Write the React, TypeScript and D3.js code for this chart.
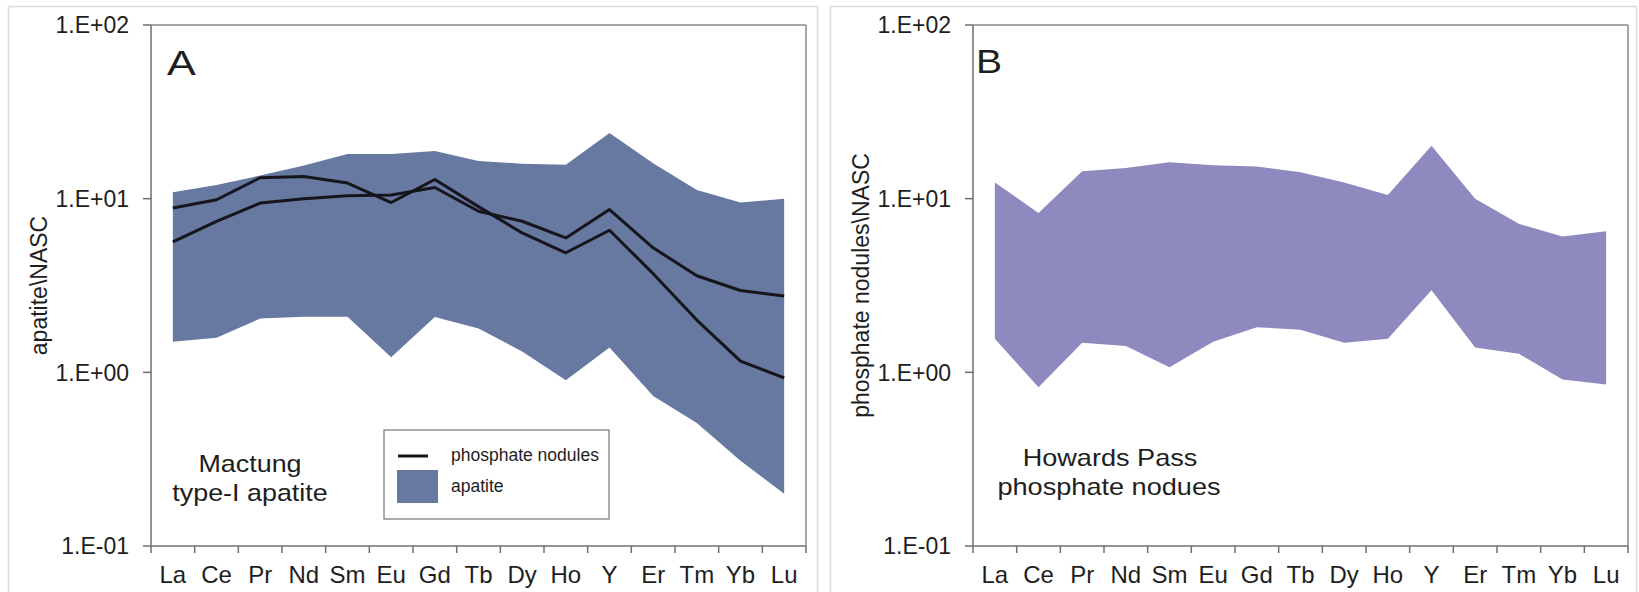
import React from "react";
import * as d3 from "d3";

// REE + Y, normalised to NASC
const elements = ["La", "Ce", "Pr", "Nd", "Sm", "Eu", "Gd", "Tb", "Dy", "Ho", "Y", "Er", "Tm", "Yb", "Lu"];
const yTicks = [0.1, 1, 10, 100];

// Panel A: Mactung type-I apatite envelope
const apatiteMax = [10.9, 12.0, 13.6, 15.5, 18.1, 18.1, 18.8, 16.5, 15.9, 15.7, 23.9, 16.0, 11.2, 9.5, 10.0];
const apatiteMin = [1.5, 1.58, 2.04, 2.09, 2.09, 1.22, 2.08, 1.79, 1.32, 0.9, 1.39, 0.73, 0.51, 0.31, 0.2];
// Panel A: two phosphate nodule profiles
const nodule1 = [8.84, 9.86, 13.2, 13.4, 12.3, 9.5, 12.9, 9.0, 6.35, 4.88, 6.58, 3.7, 2.0, 1.16, 0.93];
const nodule2 = [5.64, 7.41, 9.44, 10.0, 10.4, 10.5, 11.6, 8.46, 7.41, 5.94, 8.65, 5.21, 3.6, 2.96, 2.75];

// Panel B: Howards Pass phosphate nodules envelope
const hpMax = [12.4, 8.28, 14.4, 15.0, 16.2, 15.6, 15.3, 14.2, 12.4, 10.5, 20.2, 10.0, 7.16, 6.06, 6.5];
const hpMin = [1.56, 0.82, 1.48, 1.42, 1.07, 1.5, 1.82, 1.76, 1.48, 1.56, 2.97, 1.39, 1.28, 0.91, 0.85];

const apatiteColor = "#6879a1";
const hpColor = "#8e89bf";
const font = "'Liberation Sans', Arial, sans-serif";

const top = 25;
const bottom = 546;

const fmtTick = (v: number) => {
  const e = Math.round(Math.log10(v));
  return "1.E" + (e < 0 ? "-" : "+") + String(Math.abs(e)).padStart(2, "0");
};

interface PanelProps {
  left: number;
  right: number;
  yTitle: string;
  yTitleX: number;
  bands: { max: number[]; min: number[]; color: string }[];
  lines: number[][];
  children?: React.ReactNode;
}

const Panel: React.FC<PanelProps> = ({ left, right, yTitle, yTitleX, bands, lines, children }) => {
  const x = d3.scaleBand<string>().domain(elements).range([left, right]).padding(0);
  const y = d3.scaleLog().domain([0.1, 100]).range([bottom, top]);
  const cx = (i: number) => (x(elements[i]) as number) + x.bandwidth() / 2;

  const area = d3
    .area<number>()
    .x((_, i) => cx(i));
  const line = d3
    .line<number>()
    .x((_, i) => cx(i))
    .y((d) => y(d));

  const boundaries = elements.map((e) => x(e) as number).concat([right]);

  return (
    <g>
      {/* envelopes */}
      {bands.map((b, k) => {
        const a = area.y0((_, i) => y(b.min[i])).y1((d) => y(d));
        return <path key={k} d={a(b.max) as string} fill={b.color} />;
      })}
      {lines.map((l, k) => (
        <path key={k} d={line(l) as string} fill="none" stroke="#15151c" strokeWidth={3} strokeLinejoin="round" />
      ))}

      {/* frame */}
      <line x1={left} x2={right} y1={top} y2={top} stroke="#8a8a8a" strokeWidth={1.5} />
      <line x1={right} x2={right} y1={top} y2={bottom} stroke="#8a8a8a" strokeWidth={1.5} />
      <line x1={left} x2={left} y1={top} y2={bottom} stroke="#6e6e6e" strokeWidth={1.5} />
      <line x1={left} x2={right} y1={bottom} y2={bottom} stroke="#6e6e6e" strokeWidth={1.5} />

      {/* y axis */}
      {yTicks.map((t) => (
        <g key={t}>
          <line x1={left - 8} x2={left} y1={y(t)} y2={y(t)} stroke="#6e6e6e" strokeWidth={1.5} />
          <text x={left - 22} y={y(t)} dy="0.36em" textAnchor="end" fontSize={23} fill="#1e1e1e" fontFamily={font}>
            {fmtTick(t)}
          </text>
        </g>
      ))}
      <text
        transform={`translate(${yTitleX},${(top + bottom) / 2}) rotate(-90)`}
        textAnchor="middle"
        fontSize={23}
        fill="#1e1e1e"
        fontFamily={font}
      >
        {yTitle}
      </text>

      {/* x axis */}
      {boundaries.map((b, i) => (
        <line key={i} x1={b} x2={b} y1={bottom} y2={bottom + 7} stroke="#6e6e6e" strokeWidth={1.5} />
      ))}
      {elements.map((e, i) => (
        <text key={e} x={cx(i)} y={583} textAnchor="middle" fontSize={24} fill="#1e1e1e" fontFamily={font}>
          {e}
        </text>
      ))}
      {children}
    </g>
  );
};

export default function App() {
  return (
    <svg
      width={1639}
      height={592}
      style={{ position: "absolute", left: 0, top: 0, background: "#ffffff" }}
    >
      <rect x={8.5} y={6.5} width={809} height={600} fill="#fff" stroke="#dcdcdc" strokeWidth={1.5} />
      <rect x={830.5} y={6.5} width={806} height={600} fill="#fff" stroke="#dcdcdc" strokeWidth={1.5} />

      <Panel
        left={151}
        right={806}
        yTitle={"apatite\\NASC"}
        yTitleX={47}
        bands={[{ max: apatiteMax, min: apatiteMin, color: apatiteColor }]}
        lines={[nodule1, nodule2]}
      >
        <text transform="translate(167,75) scale(1.2,1)" fontSize={36} fill="#1e1e1e" fontFamily={font}>
          A
        </text>
        <g fontFamily={font} fill="#1e1e1e" fontSize={24} textAnchor="middle">
          <text transform="translate(250,472) scale(1.12,1)">Mactung</text>
          <text transform="translate(250,501) scale(1.12,1)">type-I apatite</text>
        </g>
        {/* legend */}
        <rect x={384} y={430} width={225} height={89} fill="#fff" stroke="#777" strokeWidth={1.2} />
        <line x1={398} x2={428} y1={456} y2={456} stroke="#15151c" strokeWidth={3} />
        <rect x={397} y={470} width={41} height={33} fill={apatiteColor} />
        <text x={451} y={461} fontSize={17.5} fill="#1e1e1e" fontFamily={font}>
          phosphate nodules
        </text>
        <text x={451} y={492} fontSize={17.5} fill="#1e1e1e" fontFamily={font}>
          apatite
        </text>
      </Panel>

      <Panel
        left={973}
        right={1628}
        yTitle={"phosphate nodules\\NASC"}
        yTitleX={869}
        bands={[{ max: hpMax, min: hpMin, color: hpColor }]}
        lines={[]}
      >
        <text transform="translate(976,73) scale(1.15,1)" fontSize={34} fill="#1e1e1e" fontFamily={font}>
          B
        </text>
        <g fontFamily={font} fill="#1e1e1e" fontSize={24} textAnchor="middle">
          <text transform="translate(1110,466) scale(1.13,1)">Howards Pass</text>
          <text transform="translate(1109,495) scale(1.13,1)">phosphate nodues</text>
        </g>
      </Panel>
    </svg>
  );
}
